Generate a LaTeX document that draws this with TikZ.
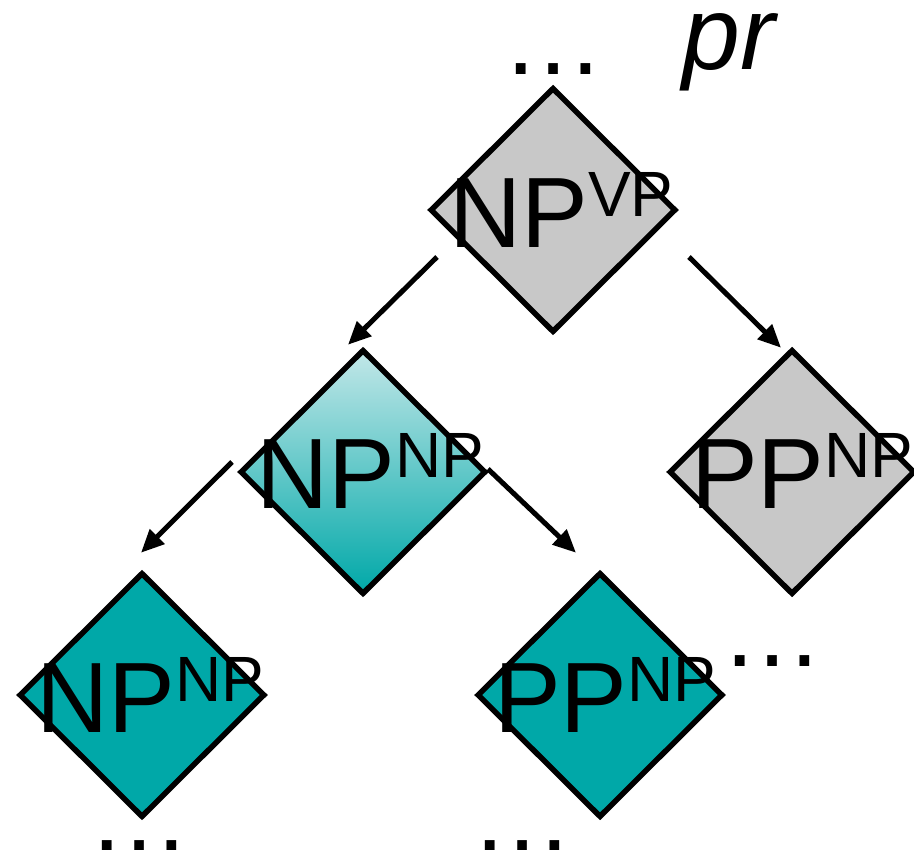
\documentclass[tikz,border=0pt]{standalone}
\usepackage{fontspec}
\setmainfont{Liberation Sans}
\usetikzlibrary{shapes.geometric,arrows.meta}

\definecolor{boxgray}{HTML}{C8C8C8}
\definecolor{tealfill}{HTML}{00A8A8}
\definecolor{teallight}{HTML}{C2E7E8}

% raised category label set in a smaller size
\newcommand\catsup[1]{\raisebox{31pt}{\fontsize{64}{64}\selectfont #1}}

\begin{document}
\begin{tikzpicture}[x=1pt,y=-1pt,
  dia/.style={diamond,draw=black,line width=5.5pt,inner sep=0pt,
              minimum width=246pt,minimum height=245pt},
  grayd/.style={dia,fill=boxgray},
  teald/.style={dia,fill=tealfill},
  fadeteal/.style={dia,top color=teallight,bottom color=tealfill},
  lab/.style={font=\fontsize{100}{100}\selectfont,inner sep=0pt,anchor=base west},
  dots/.style={font=\fontsize{102}{102}\selectfont,inner sep=0pt,anchor=base},
  arr/.style={line width=5pt,-{Triangle[length=23pt,width=20pt]}}]

\useasboundingbox (0,0) rectangle (914,850);

% tree nodes
\node[grayd]    (top) at (553,210) {};
\node[fadeteal] (ml)  at (363,472) {};
\node[grayd]    (mr)  at (792,472) {};
\node[teald]    (bl)  at (142,695) {};
\node[teald]    (bm)  at (600,695) {};

% edges
\draw[arr] ([shift={(-116,47)}]top.center) -- ([shift={(-15,-2)}]ml.north);
\draw[arr] ([shift={(136,47)}]top.center)  -- ([shift={(-11,1)}]mr.north);
\draw[arr] ([shift={(-131,-10)}]ml.center) -- ([shift={(-1,-17)}]bl.north);
\draw[arr] ([shift={(125,-3)}]ml.center)   -- ([shift={(-24,-17)}]bm.north);

% category labels
\node[lab] (ltop) at ([shift={(-104,38)}]top.center) {NP\catsup{VP}};
\node[lab] (lml)  at ([shift={(-107,36)}]ml.center)  {NP\catsup{NP}};
\node[lab] (lmr)  at ([shift={(-101,36)}]mr.center)  {PP\catsup{NP}};
\node[lab] (lbl)  at ([shift={(-106,37)}]bl.center)  {NP\catsup{NP}};
\node[lab] (lbm)  at ([shift={(-106,37)}]bm.center)  {PP\catsup{NP}};

% continuation marks
\node[dots] (dtop) at (553,75)  {…};
\node[dots] (dbm)  at (772,666) {…};
\node[dots] (dbl)  at (139,851) {…};
\node[dots] (dbb)  at (522,851) {…};

\node[lab,font=\fontsize{104}{104}\selectfont] (pr) at (682,70) {\itshape pr};
\end{tikzpicture}
\end{document}
